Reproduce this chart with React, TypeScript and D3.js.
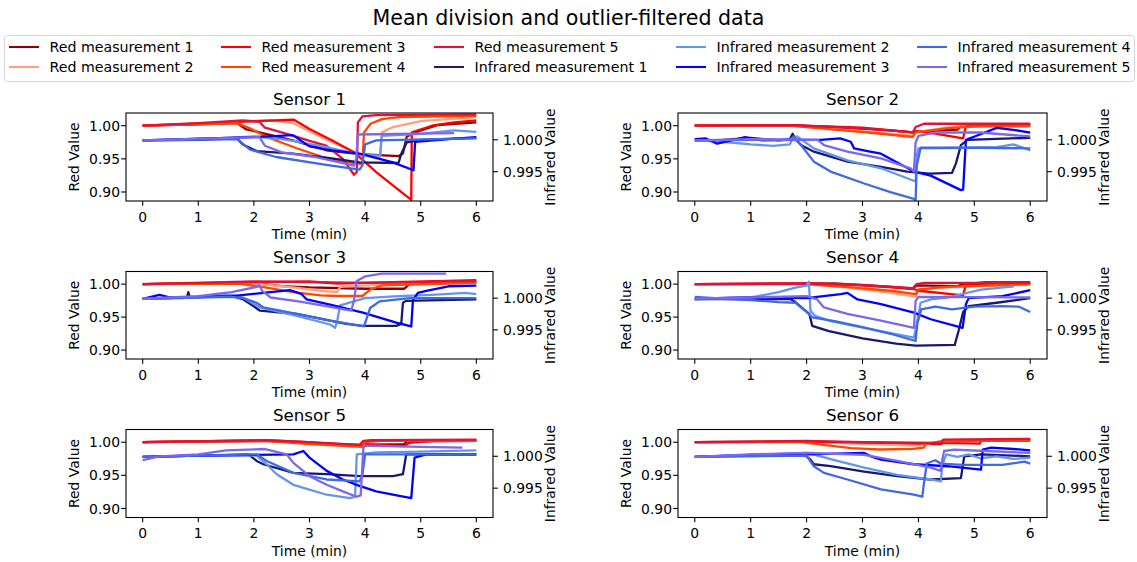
import React from 'react';
import * as d3 from 'd3';

type Pt = [number, number];

const mainTitle = 'Mean division and outlier-filtered data';
const sensorNames = ['Sensor 1', 'Sensor 2', 'Sensor 3', 'Sensor 4', 'Sensor 5', 'Sensor 6'];
const redLabels = ['Red measurement 1', 'Red measurement 2', 'Red measurement 3', 'Red measurement 4', 'Red measurement 5'];
const irLabels = ['Infrared measurement 1', 'Infrared measurement 2', 'Infrared measurement 3', 'Infrared measurement 4', 'Infrared measurement 5'];
const redColors = ['#8B0000', '#FFA07A', '#FF0000', '#FF4500', '#DC143C'];
const irColors = ['#191970', '#6495ED', '#0000FF', '#4169E1', '#7B68EE'];
const xTicks = [0, 1, 2, 3, 4, 5, 6];
const redTicks = [0.9, 0.95, 1.0];
const irTicks = [0.995, 1.0];

// ---------- Sensor 1 ----------
const sensor1Red: Pt[][] = [
  [[0, 1.0], [1, 1.002], [1.7, 1.004], [1.85, 0.995], [2.1, 0.99], [2.7, 0.978], [3.3, 0.963], [3.9, 0.957], [4.6, 0.954], [4.68, 0.958], [4.75, 0.984], [5.0, 0.993], [5.3, 1.001], [6, 1.005]],
  [[0, 1.0], [1.5, 1.005], [2.3, 1.008], [2.7, 1.004], [3.3, 0.979], [3.9, 0.957], [4.27, 0.953], [4.3, 0.99], [4.5, 0.998], [5, 1.007], [6, 1.013]],
  [[0, 1.0], [1, 1.003], [2, 1.007], [2.72, 1.009], [3.0, 0.995], [3.4, 0.978], [3.8, 0.96], [4.2, 0.93], [4.5, 0.91], [4.83, 0.888], [4.84, 0.99], [5.2, 1.0], [5.6, 1.005], [6, 1.008]],
  [[0, 1.0], [1, 1.002], [1.7, 1.004], [1.93, 0.996], [2.23, 0.983], [2.77, 0.966], [3.37, 0.949], [3.78, 0.944], [3.95, 0.942], [3.98, 0.99], [4.1, 1.003], [4.3, 1.01], [4.6, 1.013], [6, 1.015]],
  [[0, 1.0], [1, 1.004], [1.8, 1.008], [2.1, 1.006], [2.2, 0.997], [2.7, 0.985], [3.0, 0.977], [3.3, 0.97], [3.6, 0.95], [3.8, 0.926], [3.85, 0.93], [3.87, 1.005], [3.95, 1.014], [4.2, 1.016], [6, 1.017]],
];
const sensor1Ir: Pt[][] = [
  [[0, 0.9999], [1, 1.0], [1.7, 1.00021], [1.8, 0.99927], [2.05, 0.99823], [2.7, 0.99782], [3.3, 0.99719], [3.9, 0.99646], [4.6, 0.99636], [4.66, 0.99802], [4.75, 0.99958], [5, 1.0], [6, 1.00031]],
  [[0, 0.9999], [1.5, 1.00031], [2.0, 1.00052], [2.5, 1.0001], [2.8, 0.99969], [3.3, 0.99886], [3.9, 0.99771], [4.27, 0.9975], [4.3, 1.00062], [5, 1.00094], [5.6, 1.00146], [6, 1.00125]],
  [[0, 0.9999], [2, 1.00042], [2.7, 1.00073], [3.0, 0.99896], [3.4, 0.99834], [3.9, 0.99782], [4.5, 0.99646], [4.87, 0.99522], [4.9, 0.99969], [5.5, 1.0001], [6, 1.00042]],
  [[0, 0.9999], [1.7, 1.0001], [1.93, 0.99844], [2.4, 0.9973], [3.3, 0.99605], [3.9, 0.99532], [3.95, 0.99594], [4.0, 0.99927], [4.2, 0.9999], [6, 1.00021]],
  [[0, 0.9999], [2.1, 1.00042], [2.2, 0.99906], [2.5, 0.99802], [3.1, 0.9973], [3.8, 0.99594], [3.84, 0.99698], [3.87, 1.00083], [5.6, 1.00104]],
];

// ---------- Sensor 2 ----------
const sensor2Red: Pt[][] = [
  [[0, 1.0], [1.7, 1.001], [2.5, 0.998], [3.5, 0.993], [3.9, 0.99], [4.0, 0.991], [4.7, 0.994], [4.75, 0.999], [6, 1.001]],
  [[0, 1.0], [1.7, 1.0], [2.5, 0.995], [3.9, 0.985], [3.95, 0.99], [4.5, 0.997], [5, 1.0], [6, 1.001]],
  [[0, 1.0], [1.7, 1.001], [3, 0.997], [3.9, 0.99], [3.95, 0.992], [4.3, 0.988], [4.8, 0.981], [4.85, 0.999], [6, 1.002]],
  [[0, 1.0], [1.7, 1.0], [2.5, 0.994], [3.2, 0.989], [3.9, 0.983], [3.95, 0.99], [4.5, 0.996], [5.0, 0.999], [6, 0.999]],
  [[0, 1.0], [1.7, 1.001], [3, 0.996], [3.9, 0.99], [3.95, 0.998], [4.1, 1.003], [6, 1.003]],
];
const sensor2Ir: Pt[][] = [
  [[0, 0.9999], [0.5, 1.0], [1.0, 1.00031], [1.5, 0.9999], [1.7, 1.0001], [1.75, 1.00094], [1.8, 1.0001], [1.9, 0.99917], [2.13, 0.99813], [2.73, 0.99657], [3.33, 0.99574], [3.8, 0.99501], [4.2, 0.9947], [4.6, 0.9948], [4.67, 0.99626], [4.76, 0.99917], [4.88, 1.0], [6, 1.00031]],
  [[0, 0.9999], [0.5, 0.99969], [1.0, 0.99927], [1.4, 0.99906], [1.7, 0.99927], [1.75, 1.00031], [1.83, 1.00052], [2.13, 0.99865], [2.73, 0.99678], [3.33, 0.99553], [3.8, 0.99397], [3.95, 0.99345], [3.97, 0.9975], [4.0, 0.99865], [5.0, 0.99875], [5.4, 0.99886], [5.7, 0.99927], [6, 0.99834]],
  [[0, 1.0001], [0.2, 1.00021], [0.4, 0.99938], [0.6, 0.99979], [0.9, 1.00042], [1.2, 0.9999], [1.8, 1.0], [2.25, 1.0], [2.6, 1.00021], [2.79, 0.99969], [2.85, 0.99865], [3.09, 0.99823], [3.33, 0.99782], [3.92, 0.99501], [4.22, 0.99438], [4.76, 0.9921], [4.8, 0.9922], [4.85, 1.0], [5.1, 1.00083], [5.4, 1.00187], [5.7, 1.00156], [6, 1.00114]],
  [[0, 0.9999], [1.7, 1.0], [1.77, 1.00052], [1.9, 0.99917], [2.13, 0.99657], [2.43, 0.99501], [3.03, 0.99314], [3.5, 0.99178], [3.92, 0.99074], [3.95, 0.99054], [3.97, 0.99594], [4.04, 0.99875], [5.1, 0.99875], [6, 0.99865]],
  [[0, 0.9999], [1, 1.0001], [2.2, 1.0], [2.31, 0.99917], [2.73, 0.99813], [3.33, 0.99709], [3.86, 0.99553], [3.92, 0.99501], [3.95, 0.99958], [4.0, 1.00062], [4.3, 1.00114], [5.1, 1.00114], [6, 1.00052]],
];

// ---------- Sensor 3 ----------
const sensor3Red: Pt[][] = [
  [[0, 1.0], [2, 1.002], [2.5, 0.997], [3, 0.995], [4, 0.993], [4.7, 0.993], [4.8, 1.0], [6, 1.003]],
  [[0, 1.0], [2, 1.001], [2.7, 0.995], [3.2, 0.99], [3.5, 0.988], [3.55, 0.996], [4.5, 1.0], [6, 1.003]],
  [[0, 1.0], [2, 1.003], [3, 1.004], [3.5, 1.001], [4.5, 1.003], [6, 1.006]],
  [[0, 1.0], [1.7, 1.001], [2.2, 0.995], [2.7, 0.988], [3.2, 0.983], [3.5, 0.982], [3.95, 0.982], [4.1, 0.992], [4.3, 0.998], [6, 1.002]],
  [[0, 1.0], [2, 1.004], [3, 1.003], [4, 1.002], [5, 1.003], [6, 1.005]],
];
const sensor3Ir: Pt[][] = [
  [[0, 0.9999], [0.5, 1.0], [0.8, 1.00021], [0.82, 1.00094], [0.85, 1.0001], [1.57, 1.00042], [1.81, 0.99979], [1.99, 0.99875], [2.11, 0.99802], [2.77, 0.9975], [3.37, 0.99646], [3.66, 0.99594], [3.96, 0.99563], [4.56, 0.99563], [4.65, 0.99594], [4.68, 0.99927], [4.74, 0.99958], [6, 0.99979]],
  [[0, 0.9999], [1.0, 1.0001], [1.6, 1.00052], [1.8, 1.0001], [2.11, 0.99854], [2.77, 0.99719], [3.37, 0.99584], [3.46, 0.99532], [3.5, 0.99646], [3.55, 0.99886], [4.0, 1.0], [4.6, 1.00031], [5.2, 1.00052], [5.8, 1.00083], [6, 1.00062]],
  [[0, 0.9999], [0.3, 1.00052], [0.5, 1.0001], [1.0, 1.00021], [1.6, 1.00031], [2.17, 1.00083], [2.65, 1.00125], [2.86, 1.00062], [2.95, 0.99979], [3.37, 0.99896], [3.96, 0.99771], [4.56, 0.99615], [4.83, 0.99553], [4.86, 0.99969], [4.95, 1.00083], [5.1, 1.00114], [5.5, 1.00187], [6, 1.00198]],
  [[0, 0.9999], [1.6, 1.00021], [1.8, 1.0], [2.05, 0.99927], [2.17, 0.99854], [2.77, 0.9975], [3.37, 0.99646], [3.98, 0.99553], [4.02, 0.99657], [4.09, 0.99844], [4.26, 0.99948], [4.8, 1.0], [6, 1.0]],
  [[0, 0.9999], [1, 1.00031], [1.6, 1.00094], [2.05, 1.00177], [2.1, 1.00208], [2.15, 1.00114], [2.3, 1.0001], [2.8, 0.99948], [3.3, 0.99875], [3.75, 0.99802], [3.8, 0.99958], [3.85, 1.0027], [4.0, 1.00343], [4.3, 1.00385], [5.46, 1.00385]],
];

// ---------- Sensor 4 ----------
const sensor4Red: Pt[][] = [
  [[0, 1.0], [2.5, 1.001], [3.5, 0.996], [3.9, 0.993], [3.97, 0.998], [4.7, 0.997], [4.8, 1.0], [6, 1.001]],
  [[0, 1.0], [2, 1.0], [2.7, 0.995], [3.4, 0.988], [3.95, 0.981], [4.0, 0.99], [4.3, 0.994], [5, 0.997], [6, 0.999]],
  [[0, 1.0], [2, 1.001], [3, 0.998], [3.9, 0.993], [4.0, 0.99], [4.8, 0.983], [4.85, 1.0], [5.2, 1.003], [6, 1.003]],
  [[0, 1.0], [2, 1.0], [2.8, 0.995], [3.5, 0.99], [3.95, 0.985], [4.0, 0.992], [4.5, 0.996], [6, 1.0]],
  [[0, 1.0], [2, 1.001], [3, 0.999], [3.9, 0.994], [3.97, 1.0], [4.1, 1.002], [6, 1.002]],
];
const sensor4Ir: Pt[][] = [
  [[0, 0.99979], [0.5, 0.9999], [1.0, 0.99979], [1.7, 0.9999], [1.8, 0.99938], [1.95, 0.99823], [2.05, 0.9975], [2.1, 0.99563], [2.4, 0.9948], [3.0, 0.99366], [3.6, 0.99282], [3.95, 0.99251], [4.65, 0.99262], [4.72, 0.9949], [4.8, 0.99782], [4.9, 0.99875], [5.4, 0.99927], [6, 1.0]],
  [[0, 0.9999], [1, 1.0001], [1.5, 1.00094], [1.8, 1.00166], [2.0, 1.00198], [2.04, 1.0026], [2.07, 0.99802], [2.15, 0.99719], [2.43, 0.99636], [3.03, 0.99532], [3.62, 0.99428], [3.92, 0.99376], [3.97, 0.99594], [4.04, 0.99927], [4.22, 0.99979], [4.52, 1.0001], [5.12, 1.00135], [5.71, 1.00187]],
  [[0, 0.9999], [1, 1.0001], [2, 1.0], [2.61, 1.00062], [2.73, 1.00083], [2.91, 0.99979], [3.33, 0.99906], [3.92, 0.99771], [4.22, 0.99667], [4.79, 0.99532], [4.85, 0.99906], [4.9, 1.0], [5.5, 1.00031], [6, 1.00125]],
  [[0, 1.00021], [0.5, 0.9999], [1, 0.99969], [1.5, 0.99938], [1.8, 0.99927], [1.9, 0.99854], [2.0, 0.99782], [2.1, 0.99698], [2.5, 0.99636], [3.0, 0.99542], [3.5, 0.99438], [3.95, 0.99324], [3.98, 0.99594], [4.05, 0.99823], [4.3, 0.99865], [4.6, 0.99823], [5, 0.99865], [5.5, 0.99875], [5.8, 0.99865], [6, 0.99782]],
  [[0, 0.9999], [1, 1.0001], [2, 1.00031], [2.19, 0.99979], [2.31, 0.99854], [2.73, 0.9975], [3.33, 0.99646], [3.92, 0.99532], [3.95, 0.99958], [4.0, 1.00021], [6, 1.0001]],
];

// ---------- Sensor 5 ----------
const sensor5Red: Pt[][] = [
  [[0, 1.0], [2.2, 1.002], [3, 0.999], [3.9, 0.996], [4.7, 0.997], [4.75, 1.001], [6, 1.002]],
  [[0, 1.0], [2.2, 1.003], [3, 0.998], [3.9, 0.994], [3.97, 0.999], [4.3, 1.002], [6, 1.003]],
  [[0, 1.0], [2.2, 1.003], [2.8, 1.001], [3.5, 0.997], [3.9, 0.995], [4.0, 0.997], [4.7, 0.994], [4.8, 0.999], [5.2, 1.002], [6, 1.003]],
  [[0, 1.0], [2.2, 1.002], [3, 0.997], [3.95, 0.993], [4.0, 1.0], [4.2, 1.002], [6, 1.002]],
  [[0, 1.0], [2.2, 1.003], [3, 1.0], [3.9, 0.996], [3.97, 1.002], [4.1, 1.003], [6, 1.004]],
];
const sensor5Ir: Pt[][] = [
  [[0, 0.9999], [1, 1.0001], [1.9, 1.00031], [2.05, 0.99927], [2.17, 0.99875], [2.71, 0.9974], [3.31, 0.99719], [3.91, 0.99688], [4.5, 0.99688], [4.68, 0.99719], [4.74, 1.00031], [6, 1.00031]],
  [[0, 0.9999], [1, 1.0001], [2.05, 1.0001], [2.23, 0.99875], [2.41, 0.99719], [2.71, 0.99553], [3.31, 0.99397], [3.73, 0.99345], [3.82, 0.99366], [3.85, 1.00031], [4.2, 1.00062], [5, 1.00073], [6, 1.00094]],
  [[0, 0.9999], [1, 1.0001], [2, 1.00021], [2.71, 1.00031], [2.89, 1.00083], [3.0, 0.99979], [3.31, 0.99771], [3.6, 0.99636], [3.91, 0.99532], [4.2, 0.99449], [4.5, 0.99397], [4.83, 0.99345], [4.89, 0.99979], [5.1, 1.00031], [6, 1.00031]],
  [[0, 0.9999], [1, 1.0001], [2.05, 1.00031], [2.23, 0.99927], [2.71, 0.9974], [3.31, 0.99636], [3.9, 0.99605], [3.95, 0.99698], [4.0, 1.00031], [6, 1.00031]],
  [[0, 0.99938], [0.3, 1.0], [1, 1.00031], [1.5, 1.00094], [2.2, 1.00114], [2.59, 1.00031], [2.71, 0.99896], [3.0, 0.99688], [3.31, 0.99553], [3.6, 0.99449], [3.85, 0.99366], [3.92, 0.99386], [3.97, 1.00135], [4.0, 1.00166], [5, 1.00146], [5.75, 1.00135]],
];

// ---------- Sensor 6 ----------
const sensor6Red: Pt[][] = [
  [[0, 1.0], [2, 1.001], [3, 0.999], [4.4, 0.997], [4.45, 1.002], [6, 1.003]],
  [[0, 1.0], [2, 1.001], [3, 0.997], [4.0, 0.995], [4.1, 0.996], [4.45, 1.003], [6, 1.004]],
  [[0, 1.0], [2, 1.001], [3.5, 0.999], [4.4, 0.998], [4.45, 0.999], [5.1, 0.998], [5.13, 1.003], [6, 1.003]],
  [[0, 1.0], [1.9, 1.0], [2.3, 0.996], [2.8, 0.991], [3.3, 0.989], [3.9, 0.99], [4.1, 0.992], [4.13, 0.997], [4.4, 1.001], [6, 1.003]],
  [[0, 1.0], [2, 1.002], [3, 1.0], [4.4, 0.999], [4.45, 1.004], [6, 1.005]],
];
const sensor6Ir: Pt[][] = [
  [[0, 0.9999], [1, 1.0001], [1.95, 1.00031], [2.07, 0.99948], [2.13, 0.99875], [2.43, 0.99844], [3.03, 0.99761], [3.62, 0.99688], [4.22, 0.99636], [4.76, 0.99657], [4.82, 1.0], [5.12, 1.00031], [6, 1.0]],
  [[0, 0.9999], [1, 1.00021], [2.0, 1.00052], [2.25, 1.0], [2.55, 0.99927], [3.03, 0.99823], [3.62, 0.99709], [4.22, 0.99636], [4.4, 0.99605], [4.43, 0.99875], [4.5, 1.00031], [4.7, 0.9999], [4.9, 1.00031], [5.1, 0.99969], [5.4, 1.0], [5.7, 0.99958], [6, 0.99979]],
  [[0, 0.9999], [1, 1.00021], [2, 1.00031], [3.03, 1.00052], [3.15, 1.0], [3.33, 0.99948], [3.92, 0.99875], [4.52, 0.99844], [5.12, 0.99792], [5.15, 1.00104], [5.3, 1.00135], [5.7, 1.00114], [6, 1.00094]],
  [[0, 0.9999], [1, 1.0], [2.0, 1.0001], [2.13, 0.99844], [2.31, 0.9974], [2.73, 0.99636], [3.33, 0.9948], [3.92, 0.99397], [4.07, 0.99366], [4.1, 0.99584], [4.15, 0.99886], [4.3, 0.99938], [4.4, 0.99886], [4.8, 0.99865], [5.5, 0.99865], [5.9, 0.99917], [6, 0.99886]],
  [[0, 0.9999], [1, 1.00031], [2, 1.00052], [3.03, 1.00021], [3.62, 0.99927], [4.22, 0.99823], [4.4, 0.99771], [4.43, 0.99958], [4.46, 1.00083], [4.64, 1.00104], [5.2, 1.00083], [6, 1.00052]],
];

const redSeries = [sensor1Red, sensor2Red, sensor3Red, sensor4Red, sensor5Red, sensor6Red];
const irSeries = [sensor1Ir, sensor2Ir, sensor3Ir, sensor4Ir, sensor5Ir, sensor6Ir];

// ---------- layout ----------
const W = 1137;
const H = 562;
const FONT = 'DejaVu Sans, Liberation Sans, sans-serif';
const colBounds: [number, number][] = [[126, 493], [678, 1047]];
const rowBounds: [number, number][] = [[113, 201], [271.5, 359], [429.5, 517.5]];
const xDomain: [number, number] = [-0.3, 6.3];
const redDomain: [number, number] = [0.8864, 1.0192];
const irDomain: [number, number] = [0.9904, 1.0042];
const LW = 2.3;
const TICK = 4.86;
const FS = 13.9;

function Subplot({ idx }: { idx: number }) {
  const [x0, x1] = colBounds[idx % 2];
  const [y0, y1] = rowBounds[Math.floor(idx / 2)];
  const x = d3.scaleLinear().domain(xDomain).range([x0, x1]);
  const yR = d3.scaleLinear().domain(redDomain).range([y1, y0]);
  const yI = d3.scaleLinear().domain(irDomain).range([y1, y0]);
  const lineR = d3.line<Pt>().x((d) => x(d[0])).y((d) => yR(d[1]));
  const lineI = d3.line<Pt>().x((d) => x(d[0])).y((d) => yI(d[1]));
  const clipId = `clip${idx}`;
  const cx = (x0 + x1) / 2;
  const cy = (y0 + y1) / 2;
  return (
    <g>
      <defs>
        <clipPath id={clipId}>
          <rect x={x0} y={y0} width={x1 - x0} height={y1 - y0} />
        </clipPath>
      </defs>
      <g clipPath={`url(#${clipId})`} fill="none" strokeWidth={LW} strokeLinejoin="round">
        {redSeries[idx].map((s, i) => (
          <path key={`r${i}`} d={lineR(s) || ''} stroke={redColors[i]} />
        ))}
        {irSeries[idx].map((s, i) => (
          <path key={`i${i}`} d={lineI(s) || ''} stroke={irColors[i]} />
        ))}
      </g>
      <rect x={x0} y={y0} width={x1 - x0} height={y1 - y0} fill="none" stroke="#000" strokeWidth={1.1} />
      {xTicks.map((t) => (
        <g key={`xt${t}`}>
          <line x1={x(t)} x2={x(t)} y1={y1} y2={y1 + TICK} stroke="#000" strokeWidth={1.1} />
          <text x={x(t)} y={y1 + 20.8} textAnchor="middle" fontSize={FS} fontFamily={FONT} fill="#000">
            {String(t)}
          </text>
        </g>
      ))}
      {redTicks.map((t) => (
        <g key={`rt${t}`}>
          <line x1={x0 - TICK} x2={x0} y1={yR(t)} y2={yR(t)} stroke="#000" strokeWidth={1.1} />
          <text x={x0 - 6} y={yR(t) + 5.07} textAnchor="end" fontSize={FS} fontFamily={FONT} fill="#000">
            {t.toFixed(2)}
          </text>
        </g>
      ))}
      {irTicks.map((t) => (
        <g key={`it${t}`}>
          <line x1={x1} x2={x1 + TICK} y1={yI(t)} y2={yI(t)} stroke="#000" strokeWidth={1.1} />
          <text x={x1 + 10} y={yI(t) + 5.07} textAnchor="start" fontSize={FS} fontFamily={FONT} fill="#000">
            {t.toFixed(3)}
          </text>
        </g>
      ))}
      <text x={cx} y={y0 - 8.3} textAnchor="middle" fontSize={16.7} fontFamily={FONT} fill="#000">
        {sensorNames[idx]}
      </text>
      <text x={cx} y={y1 + 38} textAnchor="middle" fontSize={FS} fontFamily={FONT} fill="#000">
        Time (min)
      </text>
      <text transform={`translate(${x0 - 47.2},${cy}) rotate(-90)`} textAnchor="middle" fontSize={FS} fontFamily={FONT} fill="#000">
        Red Value
      </text>
      <text transform={`translate(${x1 + 62},${cy}) rotate(-90)`} textAnchor="middle" fontSize={FS} fontFamily={FONT} fill="#000">
        Infrared Value
      </text>
    </g>
  );
}

const legendColX = [9, 221, 434, 676, 917];
const legendRowY = [47, 67];

function Legend() {
  const labels = [...redLabels, ...irLabels];
  const colors = [...redColors, ...irColors];
  return (
    <g>
      <rect x={4.5} y={35.5} width={1130} height={46} rx={3} ry={3} fill="#fff" fillOpacity={0.8} stroke="#d6d6d6" strokeWidth={1} />
      {labels.map((lab, i) => {
        const c = Math.floor(i / 2);
        const r = i % 2;
        const lx = legendColX[c];
        const ly = legendRowY[r];
        return (
          <g key={lab}>
            <line x1={lx} x2={lx + 30} y1={ly} y2={ly} stroke={colors[i]} strokeWidth={2.08} />
            <text x={lx + 40.5} y={ly + 5.07} fontSize={14.2} fontFamily={FONT} fill="#000">
              {lab}
            </text>
          </g>
        );
      })}
    </g>
  );
}

export default function App() {
  return (
    <svg
      width={W}
      height={H}
      viewBox={`0 0 ${W} ${H}`}
      style={{ position: 'absolute', left: 0, top: 0, background: '#fff' }}
    >
      <rect x={0} y={0} width={W} height={H} fill="#fff" />
      <text x={W / 2} y={25} textAnchor="middle" fontSize={20.6} fontFamily={FONT} fill="#000">
        {mainTitle}
      </text>
      <Legend />
      {sensorNames.map((_, i) => (
        <Subplot key={i} idx={i} />
      ))}
    </svg>
  );
}
